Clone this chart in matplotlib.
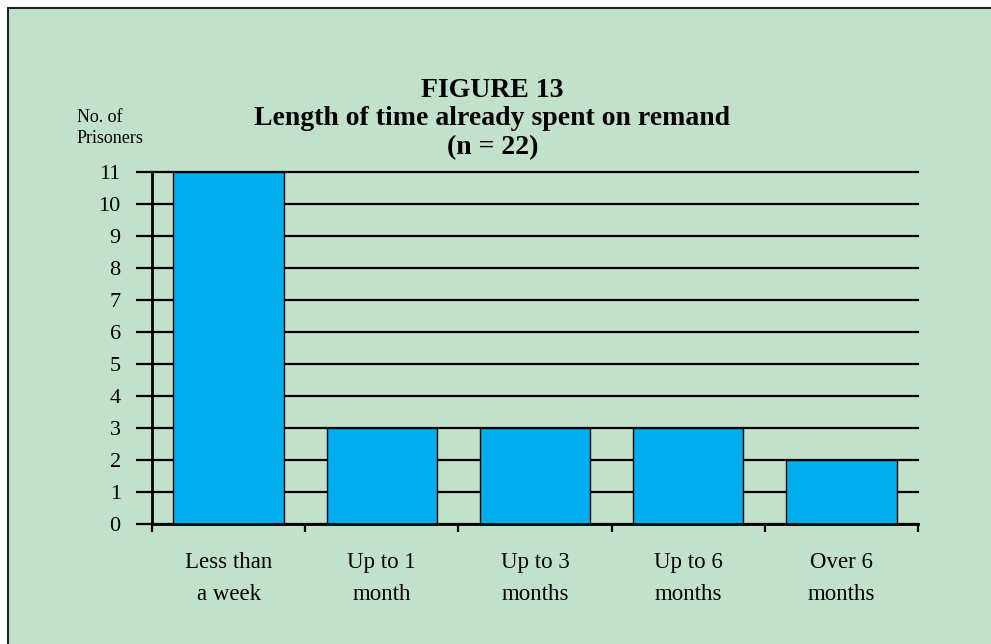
import matplotlib
matplotlib.use('Agg')
import matplotlib.pyplot as plt
from matplotlib.patches import Rectangle

# Data
categories = ['Less than\na week', 'Up to 1\nmonth', 'Up to 3\nmonths', 'Up to 6\nmonths', 'Over 6\nmonths']
prisoners = [11, 3, 3, 3, 2]
y_ticks = list(range(0, 12))

plt.rcParams['font.family'] = ['Liberation Serif', 'DejaVu Serif']

bg = '#c1e1cb'
fig = plt.figure(figsize=(9.91, 6.44), dpi=100, facecolor='white')

# green panel with border on left and top
panel = Rectangle((8 / 991, -0.05), 1.1, 1 - 8 / 644 + 0.05, transform=fig.transFigure,
                  facecolor=bg, edgecolor='#222222', linewidth=1.5, zorder=-10)
fig.patches.append(panel)

ax = fig.add_axes([152 / 991, 1 - 524 / 644, (918 - 152) / 991, (524 - 172) / 644])
ax.set_facecolor('none')

x = list(range(len(categories)))
bars = ax.bar(x, prisoners, width=0.72, color='#00aeef', edgecolor='black', linewidth=1.0, zorder=3)
for b in bars:
    b.set_clip_on(False)

ax.set_xlim(-0.5, len(categories) - 0.5)
ax.set_ylim(0, 11)

# gridlines
for v in y_ticks:
    ax.axhline(v, color='black', linewidth=1.6, zorder=1, clip_on=False)

ax.set_yticks(y_ticks)
ax.set_yticklabels([str(v) for v in y_ticks], fontsize=16)
ax.tick_params(axis='y', direction='out', length=11.5, width=1.6, pad=11)

ax.set_xticks(x)
ax.set_xticklabels(categories, fontsize=16.5, linespacing=1.65)
ax.tick_params(axis='x', which='major', length=0, pad=20.5)
ax.set_xticks([i - 0.5 for i in range(len(categories) + 1)], minor=True)
ax.tick_params(axis='x', which='minor', direction='out', length=6, width=1.6)

for s in ['top', 'right']:
    ax.spines[s].set_visible(False)
ax.spines['left'].set_linewidth(2)
ax.spines['bottom'].set_linewidth(2)
ax.spines['left'].set_zorder(4)
ax.spines['bottom'].set_zorder(4)

fig.text(0.497, 1 - 119 / 644, 'FIGURE 13\nLength of time already spent on remand\n(n = 22)',
         ha='center', va='center', fontsize=20, fontweight='bold', linespacing=1.2)
fig.text(77 / 991, 1 - 128 / 644, 'No. of\nPrisoners', ha='left', va='center', fontsize=13,
         linespacing=1.35)

fig.savefig('out.png', dpi=100, facecolor=fig.get_facecolor())
